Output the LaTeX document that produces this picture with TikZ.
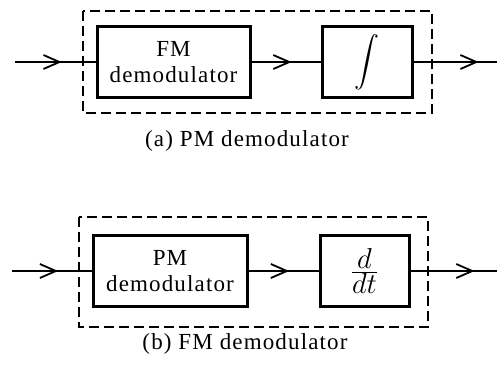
\documentclass[tikz,border=0pt]{standalone}
\usepackage{fontspec}
\setmainfont{Liberation Serif}[LetterSpace=5]
\usetikzlibrary{arrows.meta,decorations.markings}

\tikzset{
 blk/.style={draw,line width=1.5pt,minimum height=35.5pt,inner sep=0pt,align=center},
 sig/.style={line width=.8pt,postaction={decorate},
   decoration={markings,mark=at position #1 with {\arrow{Straight Barb[length=8pt,width=7pt,line width=.9pt]}}}},
 dbox/.style={dashed,line width=.8pt,dash pattern=on 5pt off 2.5pt}
}

\begin{document}
\begin{tikzpicture}[x=.5pt,y=-.5pt,font=\fontsize{11.5}{13}\selectfont]
 \useasboundingbox (0,0) rectangle (497,365);
 % (a) PM demodulator
 \draw[dbox] (83,11) rectangle (432,113);
 \node[blk,minimum width=76.5pt] (fma) at (173.5,62) {FM\\demodulator};
 \node[blk,minimum width=45pt] (inta) at (367,62) {\scalebox{1.25}{$\displaystyle\int$}};
 \coordinate (ina) at (15,62);
 \coordinate (outa) at (497,62);
 \draw[sig=.58] (ina) -- (fma);
 \draw[sig=.58] (fma) -- (inta);
 \draw[sig=.78] (inta) -- (outa);
 \node (capa) at (247,141) {(a) PM demodulator};
 % (b) FM demodulator
 \draw[dbox] (79,217) rectangle (428,327);
 \node[blk,minimum width=77pt] (pmb) at (170,271) {PM\\demodulator};
 \node[blk,minimum width=44.5pt] (ddt) at (364.5,271) {\scalebox{1.2}{$\frac{\textstyle d}{\textstyle dt}$}};
 \coordinate (inb) at (12,271);
 \coordinate (outb) at (497,271);
 \draw[sig=.58] (inb) -- (pmb);
 \draw[sig=.58] (pmb) -- (ddt);
 \draw[sig=.74] (ddt) -- (outb);
 \node (capb) at (245,344) {(b) FM demodulator};
\end{tikzpicture}
\end{document}
